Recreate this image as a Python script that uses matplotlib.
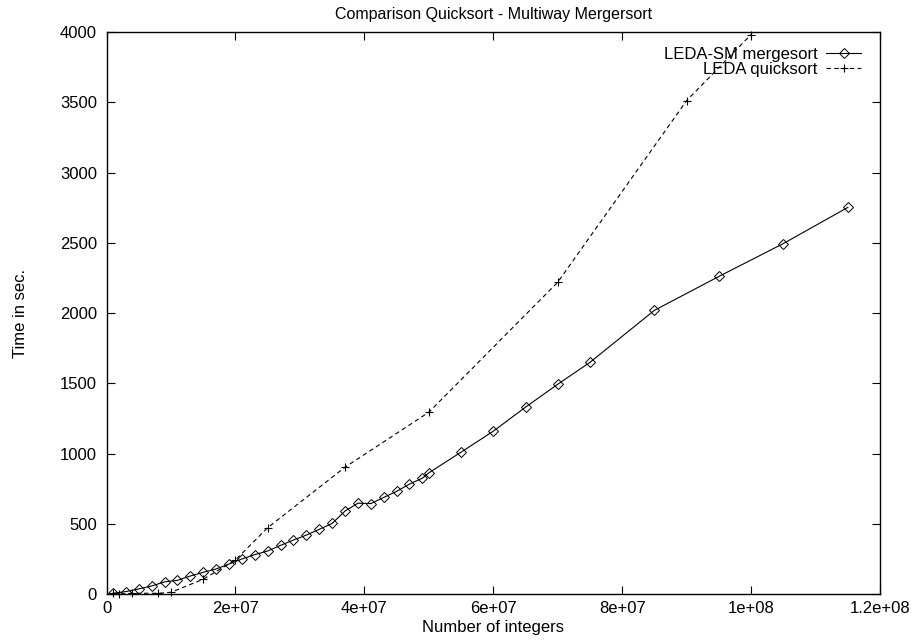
import matplotlib
matplotlib.use('Agg')
import matplotlib.pyplot as plt
from matplotlib.ticker import FuncFormatter, MultipleLocator

# number of integers (in millions) and running time in seconds
merge_n = [1, 3, 5, 7, 9, 11, 13, 15, 17, 19, 21, 23, 25, 27, 29, 31, 33, 35, 37,
           39, 41, 43, 45, 47, 49, 50, 55, 60, 65, 70, 75, 85, 95, 105, 115]
merge_t = [7, 19, 38, 59, 88, 99, 130, 156, 180, 215, 251, 282, 308, 348, 386, 421, 462, 504, 592,
           648, 645, 689, 732, 784, 826, 864, 1011, 1160, 1331, 1494, 1650, 2020, 2261, 2495, 2752]

quick_n = [1, 2, 4, 8, 10, 15, 20, 25, 37, 50, 70, 90, 100]
quick_t = [7, 2, 7, 7, 14, 107, 244, 474, 904, 1295, 2220, 3512, 3982]

title = 'Comparison Quicksort - Multiway Mergersort'
x_label = 'Number of integers'
y_label = 'Time in sec.'
labels = ['LEDA-SM mergesort', 'LEDA quicksort']

plt.rcParams['font.family'] = ['Liberation Sans', 'DejaVu Sans']
plt.rcParams['font.size'] = 12

fig = plt.figure(figsize=(9.13, 6.41), dpi=100)
ax = fig.add_axes([0.1167, 0.0729, 0.8472, 0.8772])

ax.plot([n * 1e6 for n in merge_n], merge_t, color='black', linewidth=0.8,
        marker='D', markersize=4.8, markerfacecolor='none', markeredgewidth=0.7,
        label=labels[0])
ax.plot([n * 1e6 for n in quick_n], quick_t, color='black', linewidth=0.8,
        linestyle=(0, (4, 3)), marker='+', markersize=6, markeredgewidth=0.8,
        label=labels[1], clip_on=False)

ax.set_xlim(0, 1.2e8)
ax.set_ylim(0, 4000)
ax.xaxis.set_major_locator(MultipleLocator(2e7))
ax.yaxis.set_major_locator(MultipleLocator(500))
ax.xaxis.set_major_formatter(FuncFormatter(lambda v, p: '%g' % v))
ax.tick_params(direction='in', length=5.5, width=0.8, top=True, right=True, labelsize=12)
ax.tick_params(axis='x', pad=5)
ax.tick_params(axis='y', pad=7)
for s in ax.spines.values():
    s.set_linewidth(1.0)

ax.set_title(title, fontsize=11.5, pad=9)
ax.set_xlabel(x_label, fontsize=12, labelpad=3)
ax.set_ylabel(y_label, fontsize=12)
ax.yaxis.set_label_coords(-0.102, 0.5)

leg = ax.legend(loc='upper right', bbox_to_anchor=(0.9755, 0.973), frameon=False,
                markerfirst=False, numpoints=1, handlelength=2.1, handletextpad=0.5,
                labelspacing=0.0, borderpad=0, borderaxespad=0, fontsize=12)

fig.savefig('out.png', dpi=100)
